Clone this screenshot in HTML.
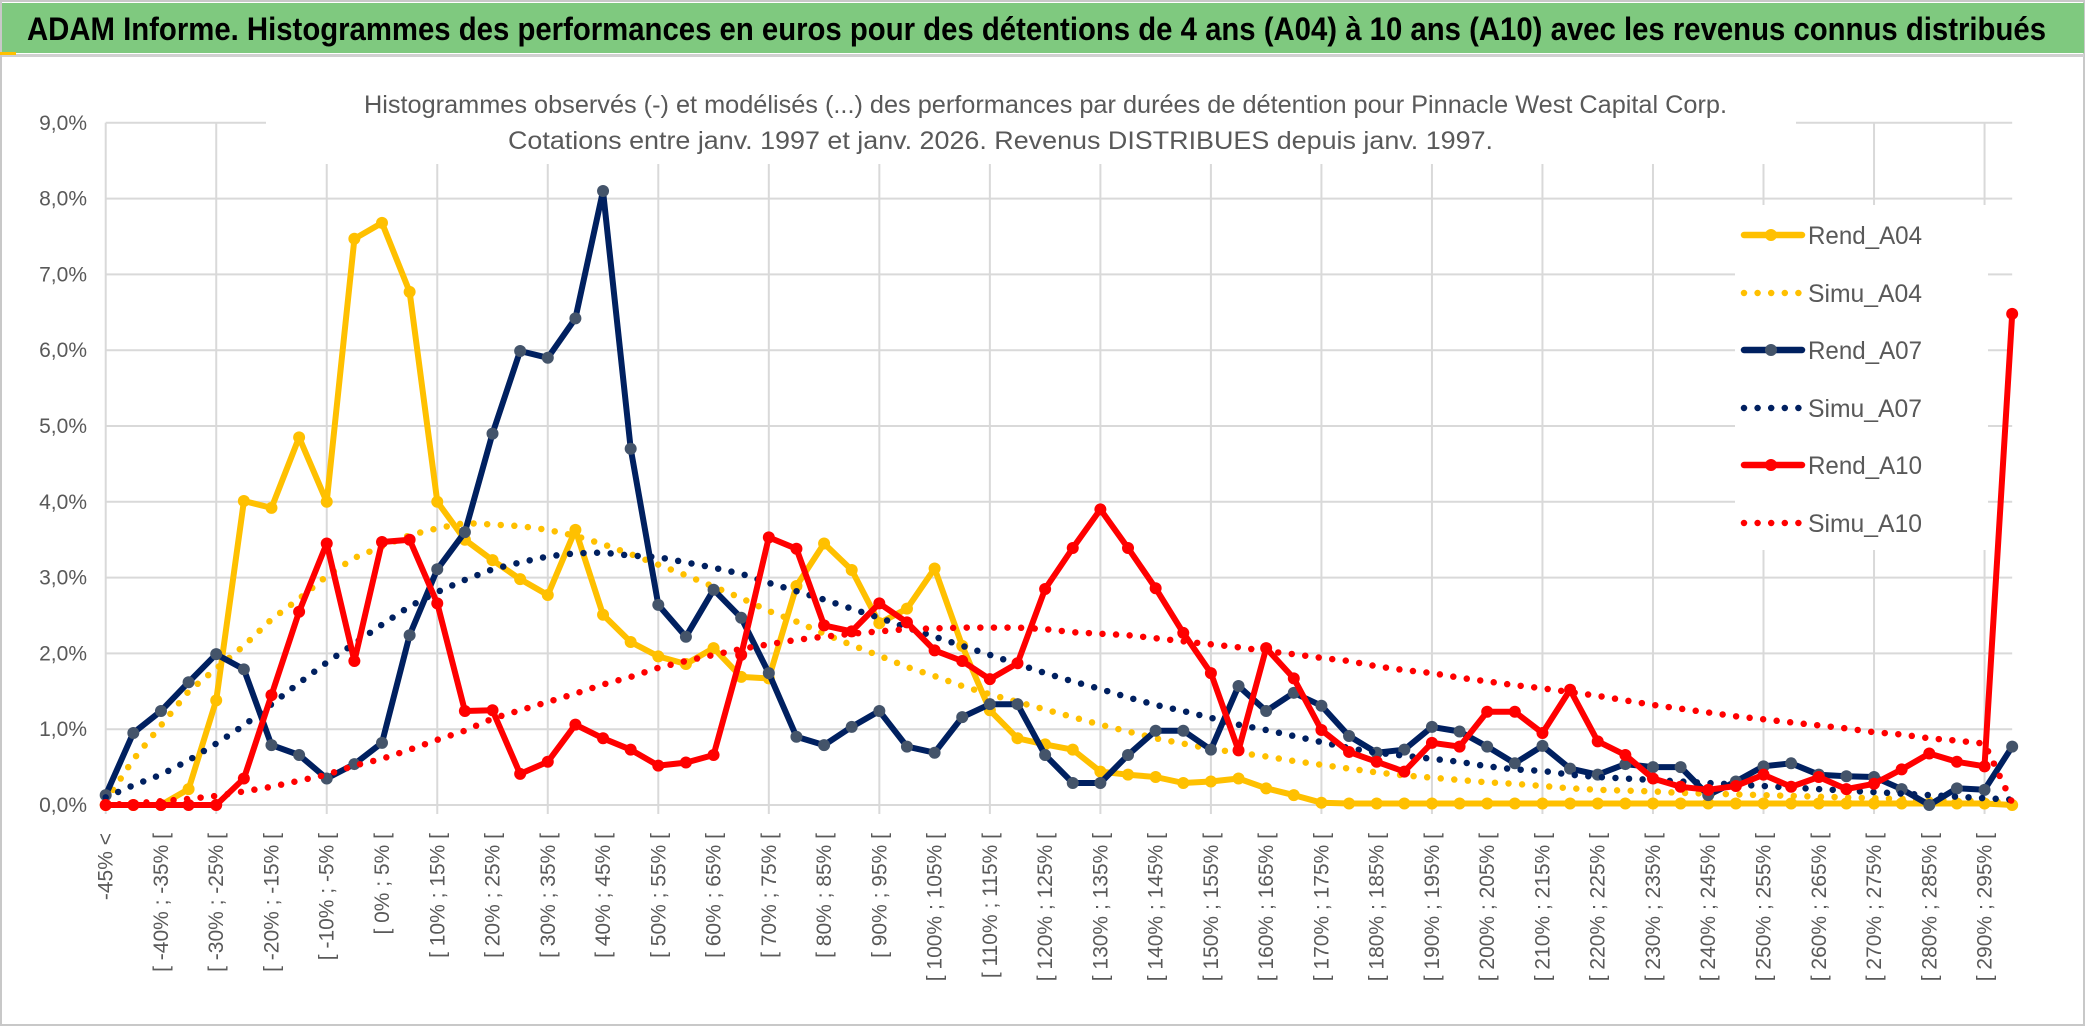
<!DOCTYPE html>
<html><head><meta charset="utf-8">
<style>
html,body{margin:0;padding:0;background:#fff;}
svg{display:block;font-family:"Liberation Sans",sans-serif;}
</style></head>
<body>
<svg id="chart" width="2086" height="1033" viewBox="0 0 2086 1033" xmlns="http://www.w3.org/2000/svg">
  <rect x="0" y="0" width="2086" height="1033" fill="#fff"/>
  <rect x="1" y="1" width="2083" height="1024" fill="none" stroke="#c8c8c8" stroke-width="2"/>
  <rect x="2" y="3" width="2082" height="50" fill="#7fc97f"/>
  <rect x="2" y="54" width="2082" height="3" fill="#d0d0d0"/>
  <rect x="0" y="52" width="16" height="3" fill="#ffc000"/>
  <text x="27" y="40" font-size="32" font-weight="bold" fill="#000" textLength="2019" lengthAdjust="spacingAndGlyphs">ADAM Informe. Histogrammes des performances en euros pour des détentions de 4 ans (A04) à 10 ans (A10) avec les revenus connus distribués</text>
  <g id="grid"></g>
  <rect x="266" y="84" width="1530" height="80" fill="#fff"/>
  <text x="364" y="113" font-size="25" fill="#595959" textLength="1363" lengthAdjust="spacingAndGlyphs">Histogrammes observés (-) et modélisés (...) des performances par durées de détention pour Pinnacle West Capital Corp.</text>
  <text x="508" y="149" font-size="25" fill="#595959" textLength="985" lengthAdjust="spacingAndGlyphs">Cotations entre janv. 1997 et janv. 2026. Revenus DISTRIBUES depuis janv. 1997.</text>
  <g id="yaxis"></g>
  <g id="xaxis"></g>
  <g id="series"></g>
  <g id="legend"></g>
</svg>
<script>
const categories = ["-45% <"];
for (let k = 1; k < 70; k++) { const lo = -50 + 5 * k; categories.push("[ " + lo + "% ; " + (lo + 5) + "% ["); }
const yTicks = [0,1,2,3,4,5,6,7,8,9];
const yTickLabels = ["0,0%","1,0%","2,0%","3,0%","4,0%","5,0%","6,0%","7,0%","8,0%","9,0%"];
const rendA04 = [0,0,0,0.21,1.38,4.01,3.92,4.85,4.0,7.47,7.68,6.77,4.0,3.5,3.23,2.98,2.77,3.63,2.51,2.15,1.96,1.86,2.07,1.69,1.67,2.89,3.45,3.10,2.40,2.59,3.12,2.1,1.25,0.88,0.8,0.73,0.44,0.40,0.37,0.29,0.31,0.35,0.22,0.13,0.03,0.02,0.02,0.02,0.02,0.02,0.02,0.02,0.02,0.02,0.02,0.02,0.02,0.02,0.02,0.02,0.02,0.02,0.02,0.02,0.02,0.02,0.02,0.02,0.02,0.0];
const simuA04 = [0.05,0.6,1.05,1.5,1.8,2.1,2.45,2.72,3.02,3.26,3.41,3.56,3.65,3.72,3.70,3.68,3.63,3.55,3.44,3.31,3.17,3.03,2.88,2.73,2.56,2.42,2.26,2.11,1.97,1.82,1.70,1.57,1.46,1.36,1.26,1.16,1.06,0.97,0.88,0.81,0.74,0.69,0.64,0.58,0.53,0.48,0.43,0.39,0.36,0.33,0.30,0.28,0.25,0.22,0.20,0.19,0.18,0.16,0.15,0.14,0.13,0.12,0.11,0.10,0.09,0.08,0.07,0.06,0.05,0.03];
const rendA07 = [0.13,0.95,1.24,1.62,1.99,1.79,0.79,0.66,0.35,0.54,0.82,2.24,3.11,3.60,4.9,5.99,5.9,6.42,8.1,4.7,2.64,2.22,2.84,2.47,1.74,0.90,0.79,1.03,1.24,0.77,0.69,1.16,1.33,1.33,0.66,0.29,0.29,0.66,0.98,0.98,0.73,1.57,1.24,1.48,1.31,0.91,0.69,0.73,1.03,0.97,0.77,0.55,0.78,0.48,0.40,0.54,0.50,0.50,0.13,0.31,0.51,0.55,0.40,0.38,0.37,0.21,0.0,0.22,0.20,0.77];
const simuA07 = [0.1,0.26,0.40,0.59,0.81,1.05,1.33,1.61,1.88,2.13,2.38,2.62,2.81,2.97,3.11,3.20,3.28,3.32,3.33,3.29,3.27,3.20,3.13,3.05,2.93,2.82,2.71,2.59,2.47,2.34,2.22,2.10,1.98,1.86,1.74,1.63,1.53,1.42,1.32,1.24,1.15,1.06,0.99,0.91,0.83,0.75,0.69,0.65,0.61,0.57,0.51,0.47,0.45,0.40,0.37,0.35,0.33,0.31,0.29,0.27,0.25,0.23,0.21,0.19,0.17,0.15,0.13,0.11,0.09,0.07];
const rendA10 = [0,0,0,0,0,0.35,1.45,2.55,3.45,1.9,3.47,3.50,2.66,1.24,1.25,0.41,0.57,1.06,0.88,0.73,0.52,0.56,0.66,1.98,3.53,3.38,2.37,2.29,2.66,2.41,2.04,1.90,1.66,1.87,2.85,3.39,3.90,3.39,2.86,2.27,1.74,0.72,2.07,1.67,0.99,0.70,0.57,0.44,0.82,0.77,1.23,1.23,0.95,1.52,0.84,0.66,0.35,0.24,0.20,0.25,0.40,0.24,0.37,0.21,0.28,0.47,0.68,0.57,0.51,6.48];
const simuA10 = [0.0,0.02,0.05,0.08,0.12,0.18,0.24,0.32,0.40,0.52,0.61,0.73,0.86,0.98,1.14,1.25,1.36,1.47,1.59,1.69,1.81,1.90,1.98,2.06,2.12,2.18,2.22,2.26,2.29,2.32,2.33,2.34,2.34,2.34,2.32,2.28,2.26,2.24,2.20,2.16,2.12,2.08,2.03,1.99,1.94,1.90,1.83,1.78,1.74,1.68,1.63,1.58,1.54,1.49,1.44,1.38,1.32,1.27,1.22,1.17,1.13,1.09,1.05,1.01,0.96,0.93,0.88,0.85,0.81,0.03];

const NS = "http://www.w3.org/2000/svg";
const X0 = 105.7, DX = 27.63, Y0 = 805, DY = 75.8;
function xs(i){ return X0 + DX * i; }
function ys(v){ return Y0 - DY * v; }
function mk(tag, parent){ const e = document.createElementNS(NS, tag); parent.appendChild(e); return e; }

const grid = document.getElementById("grid");
const xEnd = xs(categories.length - 1);
yTicks.forEach(function(t){
  const l = mk("line", grid);
  
  
  l.setAttribute("x1", X0); l.setAttribute("x2", xEnd);
  l.setAttribute("y1", ys(t)); l.setAttribute("y2", ys(t));
  l.setAttribute("stroke", "#d9d9d9"); l.setAttribute("stroke-width", "2");
});
for (let i = 0; i < categories.length; i += 4) {
  const l = mk("line", grid);
  
  
  l.setAttribute("x1", xs(i)); l.setAttribute("x2", xs(i));
  l.setAttribute("y1", ys(9)); l.setAttribute("y2", Y0 + 9);
  l.setAttribute("stroke", "#d9d9d9"); l.setAttribute("stroke-width", "2");
}

const yaxis = document.getElementById("yaxis");
yTicks.forEach(function(t, k){
  const tx = mk("text", yaxis);
  
  
  tx.setAttribute("x", 87); tx.setAttribute("y", ys(t) + 7);
  tx.setAttribute("text-anchor", "end"); tx.setAttribute("font-size", "21"); tx.setAttribute("fill", "#595959");
  tx.textContent = yTickLabels[k];
});

const xaxis = document.getElementById("xaxis");
categories.forEach(function(c, i){
  if (i % 2 !== 0) return;
  const tx = mk("text", xaxis);
  
  
  const x = xs(i) + 7, y = 833;
  tx.setAttribute("x", x); tx.setAttribute("y", y);
  tx.setAttribute("transform", "rotate(-90 " + x + " " + y + ")");
  tx.setAttribute("text-anchor", "end"); tx.setAttribute("font-size", "21"); tx.setAttribute("fill", "#595959");
  tx.textContent = c;
});

const seriesG = document.getElementById("series");
function pathD(vals){ return vals.map(function(v, i){ return (i ? "L" : "M") + xs(i).toFixed(1) + " " + ys(v).toFixed(1); }).join(" "); }
function drawSimu(vals, color, name){
  const p = mk("path", seriesG);
  
  
  p.setAttribute("d", pathD(vals)); p.setAttribute("fill", "none");
  p.setAttribute("stroke", color); p.setAttribute("stroke-width", "6.5");
  p.setAttribute("stroke-linecap", "round"); p.setAttribute("stroke-dasharray", "0 13.6");
}
function drawRend(vals, color, mcolor, name){
  const p = mk("path", seriesG);
  
  
  p.setAttribute("d", pathD(vals)); p.setAttribute("fill", "none");
  p.setAttribute("stroke", color); p.setAttribute("stroke-width", "6");
  p.setAttribute("stroke-linejoin", "round");
  vals.forEach(function(v, i){
    const c = mk("circle", seriesG);
    
    
    c.setAttribute("cx", xs(i)); c.setAttribute("cy", ys(v)); c.setAttribute("r", "6");
    c.setAttribute("fill", mcolor);
  });
}
drawRend(rendA04, "#ffc000", "#ffc000", "rend-a04-line");
drawSimu(simuA04, "#ffc000", "simu-a04-line");
drawRend(rendA07, "#002060", "#44546a", "rend-a07-line");
drawSimu(simuA07, "#002060", "simu-a07-line");
drawRend(rendA10, "#ff0000", "#ff0000", "rend-a10-line");
drawSimu(simuA10, "#ff0000", "simu-a10-line");

const legend = document.getElementById("legend");
const lg = mk("rect", legend);


lg.setAttribute("x", 1735); lg.setAttribute("y", 205); lg.setAttribute("width", 253); lg.setAttribute("height", 345); lg.setAttribute("fill", "#fff");
const legNames = ["Rend_A04","Simu_A04","Rend_A07","Simu_A07","Rend_A10","Simu_A10"];
const legColors = ["#ffc000","#ffc000","#002060","#002060","#ff0000","#ff0000"];
const legMarkers = ["#ffc000",null,"#44546a",null,"#ff0000",null];
const legY = [235,293,350,408,465,523];
legNames.forEach(function(n, k){
  const y = legY[k];
  const l = mk("line", legend);
  
  
  l.setAttribute("x1", 1744); l.setAttribute("x2", 1802); l.setAttribute("y1", y); l.setAttribute("y2", y);
  l.setAttribute("stroke", legColors[k]); l.setAttribute("stroke-width", "6.5"); l.setAttribute("stroke-linecap", "round");
  if (legMarkers[k]) {
    const c = mk("circle", legend);
    
    
    c.setAttribute("cx", 1771); c.setAttribute("cy", y); c.setAttribute("r", "6"); c.setAttribute("fill", legMarkers[k]);
  } else {
    l.setAttribute("stroke-dasharray", "0 13.6");
  }
  const t = mk("text", legend);
  
  
  t.setAttribute("x", 1808); t.setAttribute("y", y + 9);
  t.setAttribute("font-size", "25"); t.setAttribute("fill", "#595959");
  t.setAttribute("textLength", "114"); t.setAttribute("lengthAdjust", "spacingAndGlyphs");
  t.textContent = n;
});
</script>
</body></html>
